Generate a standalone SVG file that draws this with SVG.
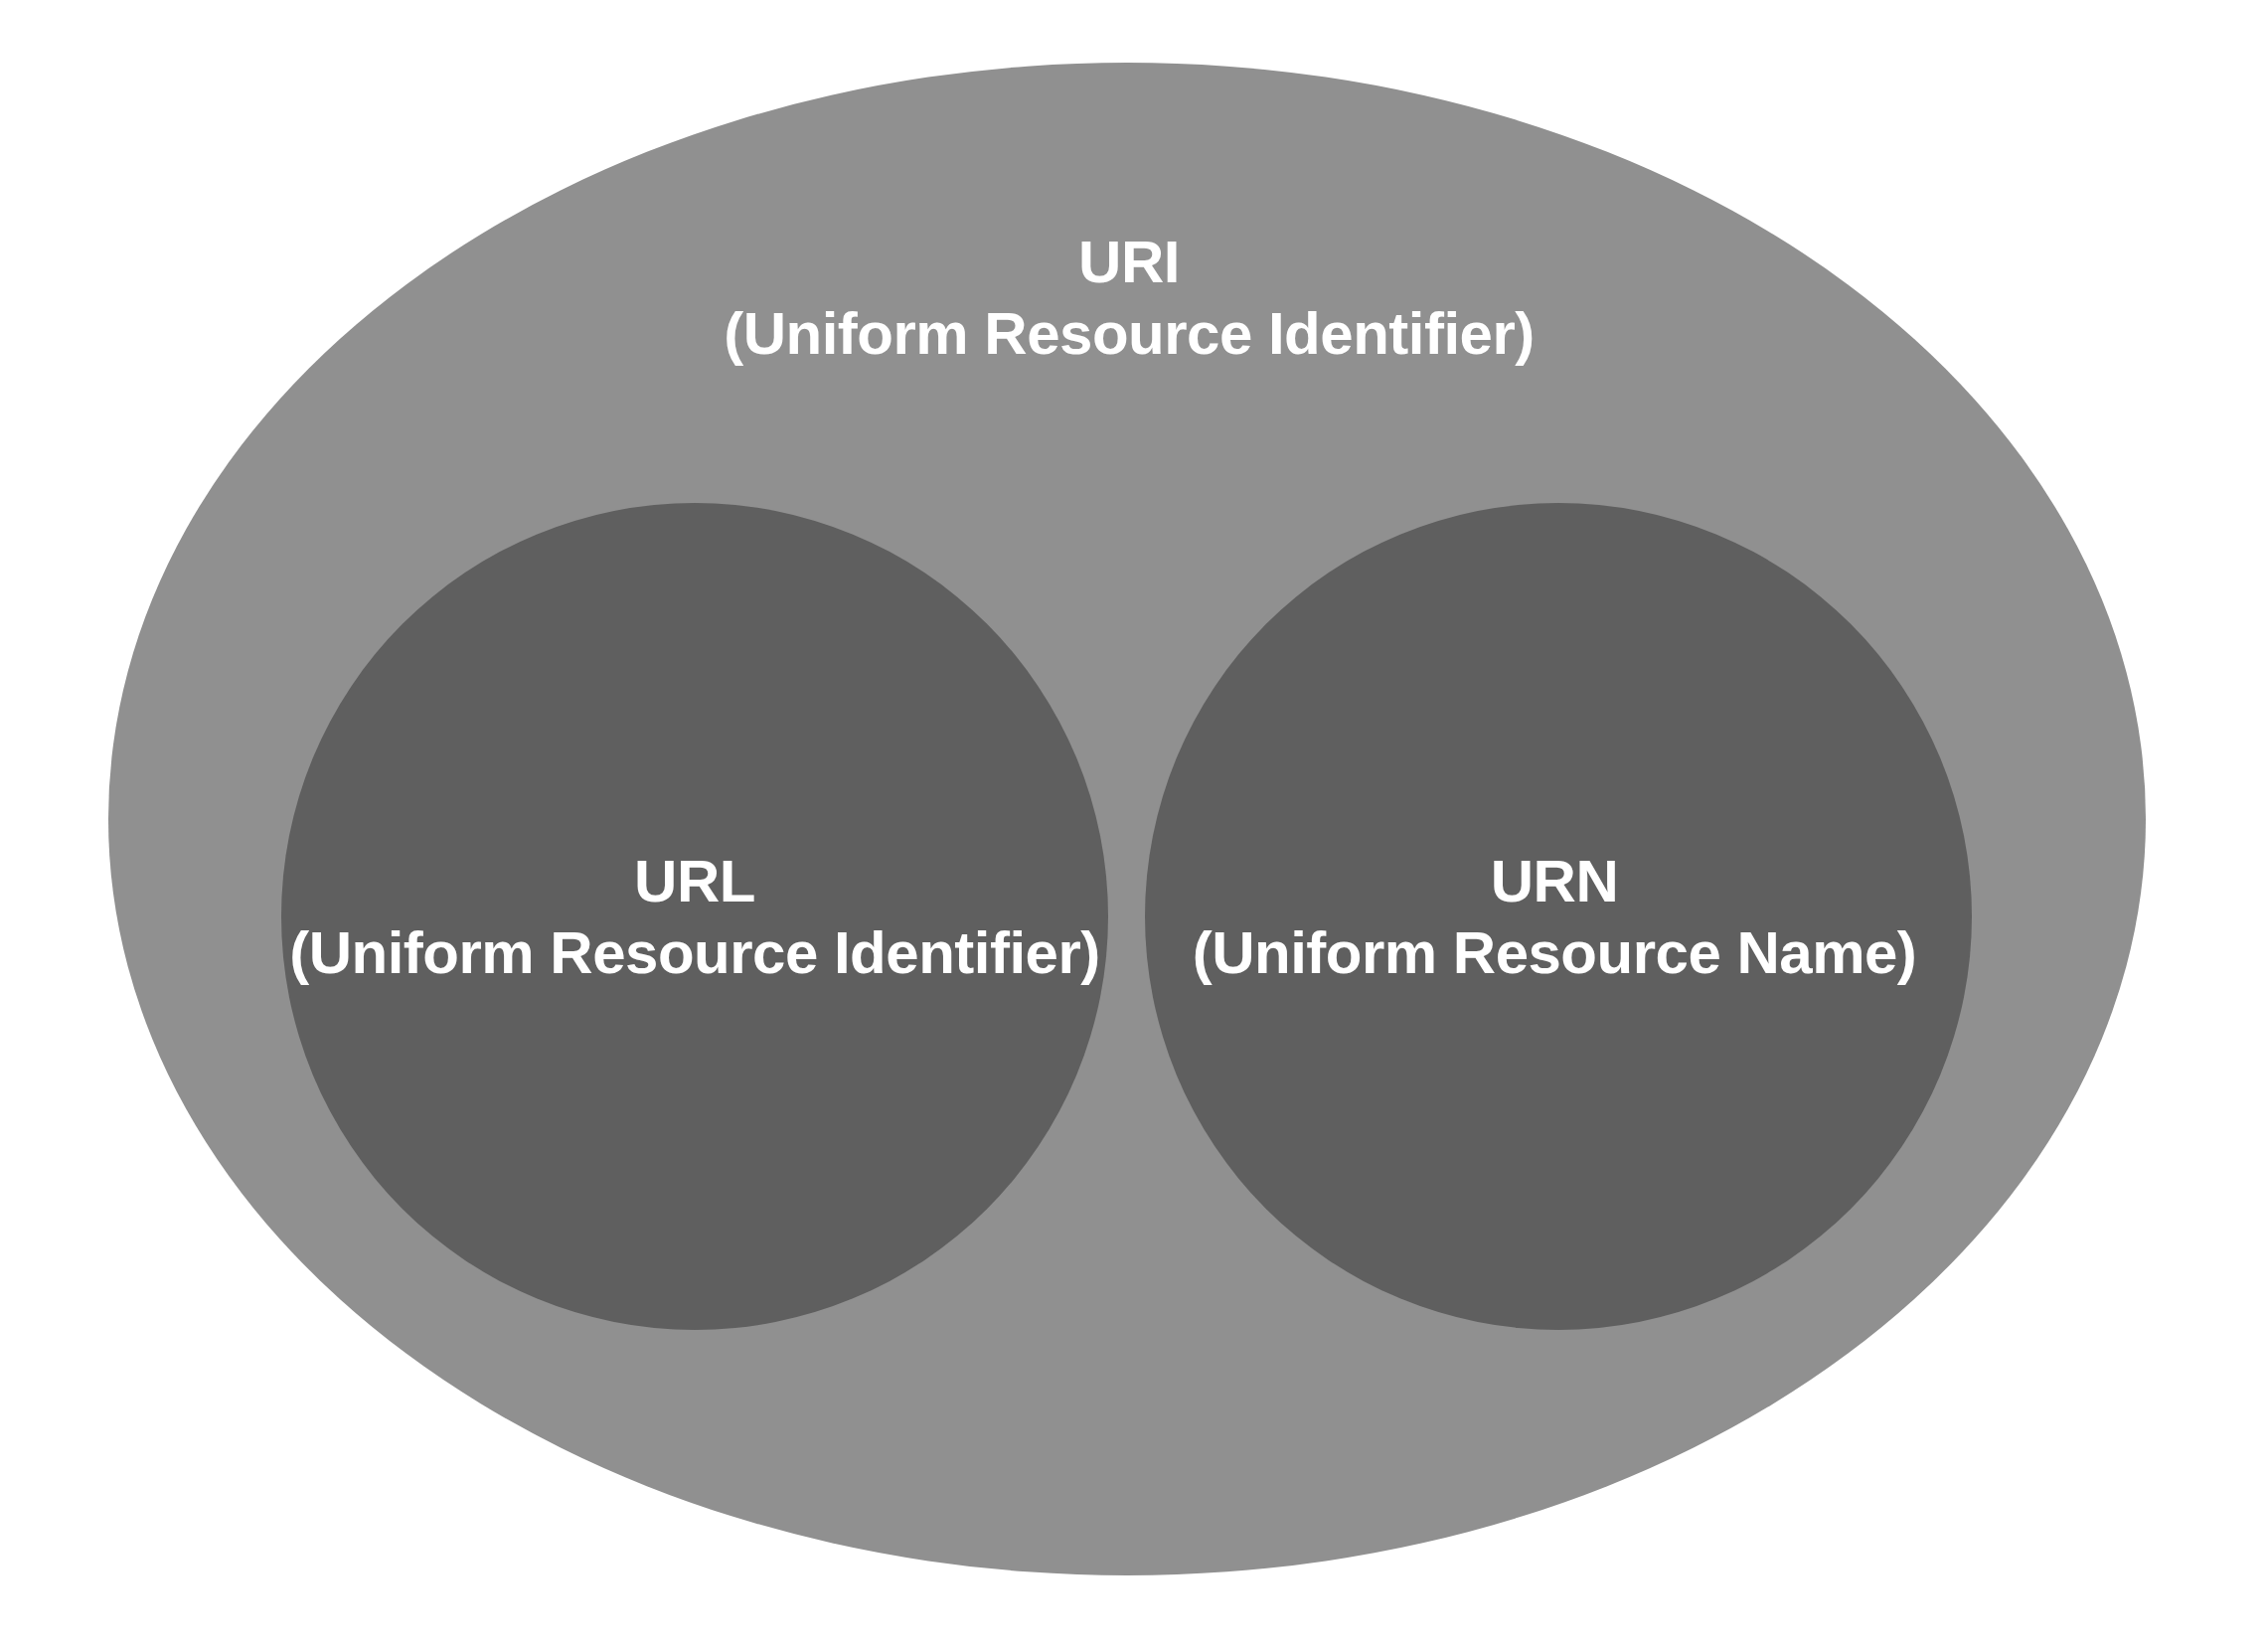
<svg xmlns="http://www.w3.org/2000/svg" width="2282" height="1658" viewBox="0 0 2282 1658">
<style>
.lbl{font-family:"Liberation Sans",Arial,sans-serif;font-weight:bold;font-size:60px;fill:#ffffff;text-anchor:middle;letter-spacing:-0.5px}
.outer{fill:#909090}
.inner{fill:#5f5f5f}
</style>
<rect width="2282" height="1658" fill="#ffffff"/>
<g id="uri">
<ellipse class="outer" cx="1134" cy="824" rx="1025" ry="761"/>
<text class="lbl" x="1136" y="284">URI</text>
<text class="lbl" x="1136" y="356">(Uniform Resource Identifier)</text>
</g>
<g id="url">
<circle class="inner" cx="699" cy="922" r="416"/>
<text class="lbl" x="699" y="907">URL</text>
<text class="lbl" x="699" y="979">(Uniform Resource Identifier)</text>
</g>
<g id="urn">
<circle class="inner" cx="1568" cy="922" r="416"/>
<text class="lbl" x="1564" y="907">URN</text>
<text class="lbl" x="1564" y="979">(Uniform Resource Name)</text>
</g>
<g id="connectors"/>
</svg>
